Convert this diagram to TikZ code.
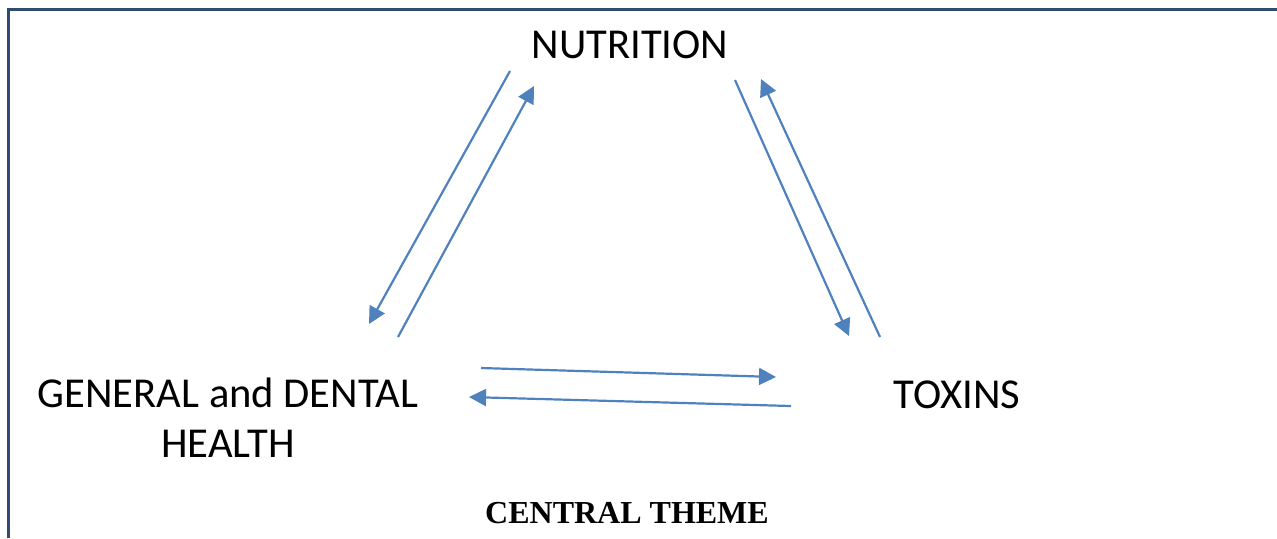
\documentclass[tikz,border=0pt]{standalone}
\usepackage{fontspec}
\setmainfont{Carlito}
\newfontfamily\timesbf{Liberation Serif}
\usetikzlibrary{arrows.meta}
\definecolor{framec}{HTML}{2F4B6E}
\definecolor{arrc}{HTML}{4F81BD}
\tikzset{
  label/.style={inner sep=0pt, font=\fontsize{21.3}{25}\selectfont, align=center},
  conn/.style={draw=arrc, line width=1.1pt, -{Triangle[length=8.5pt,width=8.5pt]}},
  frame/.style={draw=framec, line width=1.5pt}
}
\begin{document}
\begin{tikzpicture}[x=0.5pt,y=-0.5pt]
\useasboundingbox (0,0) rectangle (1277,538);
\draw[frame] (8.5,538) -- (8.5,9.5) -- (1277,9.5);
\node[label] (nut) at (630,45) {NUTRITION};
\node[label, align=center] (gen) at (228,418) {GENERAL and DENTAL\\HEALTH};
\node[label] (tox) at (957,395) {TOXINS};
\node[inner sep=0pt, font=\timesbf\bfseries\fontsize{16}{18}\selectfont] (ct) at (627,513) {CENTRAL THEME};
% arrow end points
\coordinate (a1s) at (510,71);  \coordinate (a1e) at (369,324);
\coordinate (a2s) at (398,337); \coordinate (a2e) at (534,86);
\coordinate (a3s) at (735,80);  \coordinate (a3e) at (849,336);
\coordinate (a4s) at (880,337); \coordinate (a4e) at (761,79);
\coordinate (a5s) at (481,368); \coordinate (a5e) at (776,377);
\coordinate (a6s) at (791,406); \coordinate (a6e) at (469,397);
\draw[conn] (a1s) -- (a1e);
\draw[conn] (a2s) -- (a2e);
\draw[conn] (a3s) -- (a3e);
\draw[conn] (a4s) -- (a4e);
\draw[conn] (a5s) -- (a5e);
\draw[conn] (a6s) -- (a6e);
\end{tikzpicture}
\end{document}
